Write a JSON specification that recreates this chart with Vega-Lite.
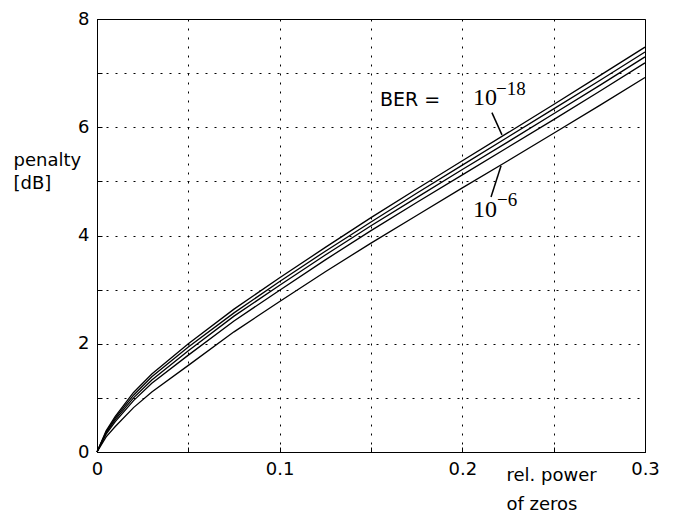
{
  "$schema": "https://vega.github.io/schema/vega-lite/v6.json",
  "width": 548,
  "height": 433,
  "autosize": {"type": "none"},
  "padding": {"left": 97, "top": 19, "right": 31, "bottom": 62},
  "background": "white",
  "config": {
    "view": {"stroke": "black", "strokeWidth": 1},
    "font": "DejaVu Sans",
    "axis": {
      "domainColor": "black",
      "grid": true,
      "gridColor": "black",
      "gridDash": [2, 7],
      "gridWidth": 1,
      "gridOpacity": 1,
      "tickColor": "black",
      "tickSize": -5,
      "labelColor": "black",
      "labelFont": "DejaVu Sans",
      "labelFontSize": 18,
      "titleColor": "black",
      "titleFont": "DejaVu Sans",
      "titleFontSize": 18,
      "titleFontWeight": "normal"
    }
  },
  "data": {
    "values": [
      {"p": 0, "penalty": 0, "ber": "1e-6"},
      {"p": 0.005, "penalty": 0.28, "ber": "1e-6"},
      {"p": 0.01, "penalty": 0.47, "ber": "1e-6"},
      {"p": 0.02, "penalty": 0.82, "ber": "1e-6"},
      {"p": 0.03, "penalty": 1.11, "ber": "1e-6"},
      {"p": 0.05, "penalty": 1.6, "ber": "1e-6"},
      {"p": 0.075, "penalty": 2.22, "ber": "1e-6"},
      {"p": 0.1, "penalty": 2.78, "ber": "1e-6"},
      {"p": 0.125, "penalty": 3.33, "ber": "1e-6"},
      {"p": 0.15, "penalty": 3.86, "ber": "1e-6"},
      {"p": 0.175, "penalty": 4.37, "ber": "1e-6"},
      {"p": 0.2, "penalty": 4.88, "ber": "1e-6"},
      {"p": 0.225, "penalty": 5.38, "ber": "1e-6"},
      {"p": 0.25, "penalty": 5.89, "ber": "1e-6"},
      {"p": 0.275, "penalty": 6.4, "ber": "1e-6"},
      {"p": 0.3, "penalty": 6.92, "ber": "1e-6"},

      {"p": 0, "penalty": 0, "ber": "1e-9"},
      {"p": 0.005, "penalty": 0.33, "ber": "1e-9"},
      {"p": 0.01, "penalty": 0.56, "ber": "1e-9"},
      {"p": 0.02, "penalty": 0.95, "ber": "1e-9"},
      {"p": 0.03, "penalty": 1.27, "ber": "1e-9"},
      {"p": 0.05, "penalty": 1.79, "ber": "1e-9"},
      {"p": 0.075, "penalty": 2.42, "ber": "1e-9"},
      {"p": 0.1, "penalty": 2.99, "ber": "1e-9"},
      {"p": 0.125, "penalty": 3.55, "ber": "1e-9"},
      {"p": 0.15, "penalty": 4.09, "ber": "1e-9"},
      {"p": 0.175, "penalty": 4.61, "ber": "1e-9"},
      {"p": 0.2, "penalty": 5.12, "ber": "1e-9"},
      {"p": 0.225, "penalty": 5.63, "ber": "1e-9"},
      {"p": 0.25, "penalty": 6.14, "ber": "1e-9"},
      {"p": 0.275, "penalty": 6.66, "ber": "1e-9"},
      {"p": 0.3, "penalty": 7.19, "ber": "1e-9"},

      {"p": 0, "penalty": 0, "ber": "1e-12"},
      {"p": 0.005, "penalty": 0.36, "ber": "1e-12"},
      {"p": 0.01, "penalty": 0.6, "ber": "1e-12"},
      {"p": 0.02, "penalty": 1.0, "ber": "1e-12"},
      {"p": 0.03, "penalty": 1.33, "ber": "1e-12"},
      {"p": 0.05, "penalty": 1.87, "ber": "1e-12"},
      {"p": 0.075, "penalty": 2.51, "ber": "1e-12"},
      {"p": 0.1, "penalty": 3.08, "ber": "1e-12"},
      {"p": 0.125, "penalty": 3.64, "ber": "1e-12"},
      {"p": 0.15, "penalty": 4.18, "ber": "1e-12"},
      {"p": 0.175, "penalty": 4.7, "ber": "1e-12"},
      {"p": 0.2, "penalty": 5.22, "ber": "1e-12"},
      {"p": 0.225, "penalty": 5.73, "ber": "1e-12"},
      {"p": 0.25, "penalty": 6.25, "ber": "1e-12"},
      {"p": 0.275, "penalty": 6.77, "ber": "1e-12"},
      {"p": 0.3, "penalty": 7.3, "ber": "1e-12"},

      {"p": 0, "penalty": 0, "ber": "1e-15"},
      {"p": 0.005, "penalty": 0.37, "ber": "1e-15"},
      {"p": 0.01, "penalty": 0.63, "ber": "1e-15"},
      {"p": 0.02, "penalty": 1.05, "ber": "1e-15"},
      {"p": 0.03, "penalty": 1.39, "ber": "1e-15"},
      {"p": 0.05, "penalty": 1.94, "ber": "1e-15"},
      {"p": 0.075, "penalty": 2.57, "ber": "1e-15"},
      {"p": 0.1, "penalty": 3.15, "ber": "1e-15"},
      {"p": 0.125, "penalty": 3.71, "ber": "1e-15"},
      {"p": 0.15, "penalty": 4.25, "ber": "1e-15"},
      {"p": 0.175, "penalty": 4.78, "ber": "1e-15"},
      {"p": 0.2, "penalty": 5.3, "ber": "1e-15"},
      {"p": 0.225, "penalty": 5.82, "ber": "1e-15"},
      {"p": 0.25, "penalty": 6.34, "ber": "1e-15"},
      {"p": 0.275, "penalty": 6.86, "ber": "1e-15"},
      {"p": 0.3, "penalty": 7.39, "ber": "1e-15"},

      {"p": 0, "penalty": 0, "ber": "1e-18"},
      {"p": 0.005, "penalty": 0.39, "ber": "1e-18"},
      {"p": 0.01, "penalty": 0.66, "ber": "1e-18"},
      {"p": 0.02, "penalty": 1.1, "ber": "1e-18"},
      {"p": 0.03, "penalty": 1.44, "ber": "1e-18"},
      {"p": 0.05, "penalty": 2.0, "ber": "1e-18"},
      {"p": 0.075, "penalty": 2.64, "ber": "1e-18"},
      {"p": 0.1, "penalty": 3.22, "ber": "1e-18"},
      {"p": 0.125, "penalty": 3.78, "ber": "1e-18"},
      {"p": 0.15, "penalty": 4.33, "ber": "1e-18"},
      {"p": 0.175, "penalty": 4.86, "ber": "1e-18"},
      {"p": 0.2, "penalty": 5.38, "ber": "1e-18"},
      {"p": 0.225, "penalty": 5.9, "ber": "1e-18"},
      {"p": 0.25, "penalty": 6.42, "ber": "1e-18"},
      {"p": 0.275, "penalty": 6.95, "ber": "1e-18"},
      {"p": 0.3, "penalty": 7.48, "ber": "1e-18"}
    ]
  },
  "layer": [
    {
      "mark": {"type": "line", "color": "black", "strokeWidth": 1.3},
      "encoding": {
        "x": {
          "field": "p",
          "type": "quantitative",
          "scale": {"domain": [0, 0.3], "nice": false},
          "axis": {
            "values": [0, 0.05, 0.1, 0.15, 0.2, 0.25, 0.3],
            "labelExpr": "indexof(['0','0.1','0.2','0.3'], format(datum.value, '.2~f')) >= 0 ? format(datum.value, '.2~f') : ''",
            "labelPadding": 13,
            "labelFlush": false,
            "title": ["rel. power", "of zeros"],
            "titleAnchor": "start",
            "titleAlign": "left",
            "titleBaseline": "top",
            "titleX": 409,
            "titleY": 14,
            "titleLineHeight": 29
          }
        },
        "y": {
          "field": "penalty",
          "type": "quantitative",
          "scale": {"domain": [0, 8], "nice": false},
          "axis": {
            "values": [0, 1, 2, 3, 4, 5, 6, 7, 8],
            "labelExpr": "datum.value % 2 == 0 ? datum.label : ''",
            "labelPadding": 13,
            "labelFlush": false,
            "title": ["penalty", "[dB]"],
            "titleAngle": 0,
            "titleAnchor": "start",
            "titleAlign": "left",
            "titleBaseline": "top",
            "titleX": -84,
            "titleY": 132,
            "titleLineHeight": 23
          }
        },
        "detail": {"field": "ber", "type": "nominal"}
      }
    },
    {
      "data": {"values": [{}]},
      "mark": {"type": "text", "align": "left", "baseline": "alphabetic", "font": "DejaVu Sans", "fontSize": 19, "color": "black"},
      "encoding": {
        "x": {"datum": 0.1549},
        "y": {"datum": 6.4},
        "text": {"value": "BER ="}
      }
    },
    {
      "data": {"values": [{}]},
      "mark": {"type": "text", "align": "left", "baseline": "alphabetic", "font": "Liberation Serif", "fontSize": 24, "color": "black"},
      "encoding": {
        "x": {"datum": 0.2058},
        "y": {"datum": 6.41},
        "text": {"value": "10"}
      }
    },
    {
      "data": {"values": [{}]},
      "mark": {"type": "text", "align": "left", "baseline": "alphabetic", "font": "Liberation Serif", "fontSize": 19, "color": "black"},
      "encoding": {
        "x": {"datum": 0.2184},
        "y": {"datum": 6.6},
        "text": {"value": "−18"}
      }
    },
    {
      "data": {"values": [{}]},
      "mark": {"type": "text", "align": "left", "baseline": "alphabetic", "font": "Liberation Serif", "fontSize": 24, "color": "black"},
      "encoding": {
        "x": {"datum": 0.2058},
        "y": {"datum": 4.34},
        "text": {"value": "10"}
      }
    },
    {
      "data": {"values": [{}]},
      "mark": {"type": "text", "align": "left", "baseline": "alphabetic", "font": "Liberation Serif", "fontSize": 19, "color": "black"},
      "encoding": {
        "x": {"datum": 0.219},
        "y": {"datum": 4.55},
        "text": {"value": "−6"}
      }
    },
    {
      "data": {"values": [{}]},
      "mark": {"type": "rule", "color": "black", "strokeWidth": 1.5},
      "encoding": {
        "x": {"datum": 0.2162},
        "y": {"datum": 6.27},
        "x2": {"datum": 0.2217},
        "y2": {"datum": 5.86}
      }
    },
    {
      "data": {"values": [{}]},
      "mark": {"type": "rule", "color": "black", "strokeWidth": 1.5},
      "encoding": {
        "x": {"datum": 0.2212},
        "y": {"datum": 5.29},
        "x2": {"datum": 0.2157},
        "y2": {"datum": 4.71}
      }
    }
  ]
}
